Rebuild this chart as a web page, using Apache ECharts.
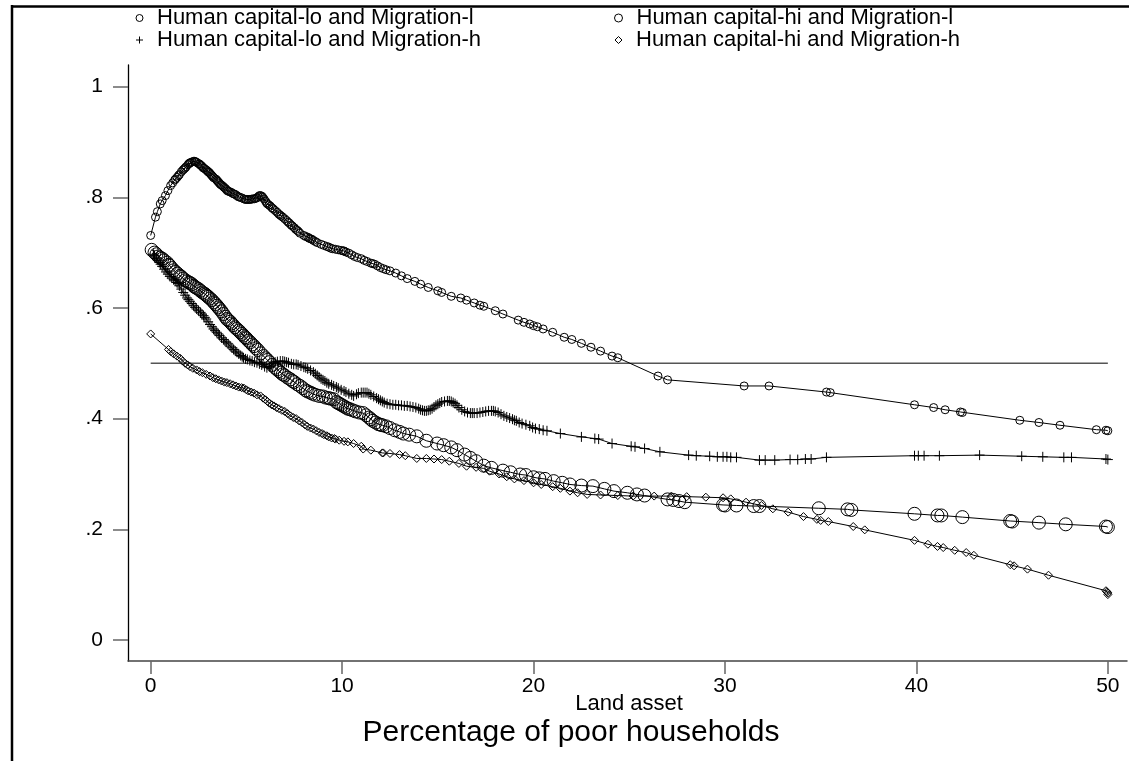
<!DOCTYPE html>
<html>
<head>
<meta charset="utf-8">
<script src="https://cdn.jsdelivr.net/npm/echarts@6/dist/echarts.min.js"></script>
<style>
html,body{margin:0;padding:0;background:#fff;}
#chart{width:1129px;height:761px;}
</style>
</head>
<body>
<div id="chart"></div>
<script>
// ---- series names ----
const names = [
  'Human capital-lo and Migration-l',
  'Human capital-lo and Migration-h',
  'Human capital-hi and Migration-l',
  'Human capital-hi and Migration-h'
];
const xTicks = [0, 10, 20, 30, 40, 50];
const yTicks = [0, 0.2, 0.4, 0.6, 0.8, 1];
const refLine = [[0, 0.5], [50, 0.5]];

// Human capital-lo and Migration-l (small circles)
const loMigL = [
[0,0.731],[0.25,0.764],[0.35,0.774],[0.5,0.788],[0.6,0.794],[0.77,0.803],[0.9,0.812],[1.04,0.821],[1.15,0.826],[1.25,0.831],
[1.3,0.833],[1.38,0.836],[1.45,0.839],[1.5,0.841],[1.6,0.846],[1.68,0.849],[1.74,0.851],[1.8,0.853],[1.85,0.855],[1.95,0.859],
[2.0,0.861],[2.05,0.862],[2.1,0.863],[2.17,0.864],[2.25,0.865],[2.3,0.865],[2.35,0.864],[2.4,0.863],[2.5,0.861],[2.55,0.860],
[2.6,0.858],[2.65,0.857],[2.7,0.855],[2.75,0.853],[2.8,0.852],[2.88,0.850],[2.95,0.848],[3.0,0.846],[3.05,0.845],[3.1,0.843],
[3.15,0.841],[3.2,0.839],[3.25,0.837],[3.3,0.835],[3.4,0.833],[3.45,0.831],[3.5,0.829],[3.55,0.827],[3.6,0.825],[3.65,0.823],
[3.7,0.822],[3.77,0.820],[3.83,0.818],[3.9,0.816],[3.95,0.814],[4.0,0.812],[4.05,0.811],[4.12,0.810],[4.2,0.809],[4.28,0.807],
[4.35,0.806],[4.42,0.805],[4.5,0.803],[4.58,0.801],[4.65,0.800],[4.75,0.799],[4.87,0.797],[4.95,0.796],[5.0,0.796],[5.08,0.796],
[5.15,0.796],[5.22,0.796],[5.3,0.797],[5.4,0.797],[5.48,0.798],[5.55,0.799],[5.62,0.801],[5.68,0.803],[5.74,0.803],[5.8,0.802],
[5.85,0.800],[5.92,0.797],[6.0,0.793],[6.05,0.790],[6.1,0.788],[6.18,0.786],[6.25,0.784],[6.33,0.781],[6.4,0.779],[6.5,0.776],
[6.6,0.773],[6.68,0.770],[6.75,0.768],[6.82,0.766],[6.9,0.764],[7.0,0.761],[7.1,0.758],[7.18,0.755],[7.25,0.753],[7.33,0.750],
[7.4,0.748],[7.5,0.745],[7.58,0.742],[7.66,0.740],[7.72,0.738],[7.8,0.735],[8.0,0.731],[8.1,0.729],[8.2,0.728],[8.27,0.726],
[8.35,0.725],[8.42,0.724],[8.5,0.722],[8.6,0.720],[8.7,0.718],[8.9,0.715],[9.05,0.713],[9.2,0.711],[9.3,0.710],[9.4,0.708],
[9.5,0.707],[9.65,0.706],[9.8,0.705],[9.95,0.704],[10.05,0.703],[10.1,0.703],[10.2,0.701],[10.35,0.699],[10.5,0.696],[10.65,0.693],
[10.8,0.691],[11.0,0.689],[11.15,0.686],[11.3,0.684],[11.5,0.681],[11.6,0.680],[11.7,0.679],[11.85,0.676],[12.0,0.673],[12.15,0.671],
[12.3,0.669],[12.5,0.667],[12.8,0.663],[13.1,0.658],[13.4,0.653],[13.8,0.648],[14.1,0.643],[14.5,0.637],[15.0,0.631],[15.2,0.628],
[15.7,0.621],[16.2,0.618],[16.5,0.614],[16.9,0.609],[17.2,0.605],[17.4,0.603],[18.0,0.595],[18.4,0.589],[19.2,0.578],[19.5,0.574],
[19.8,0.571],[20.0,0.568],[20.2,0.566],[20.5,0.562],[21.0,0.556],[21.6,0.547],[22.0,0.543],[22.5,0.536],[23.0,0.529],[23.5,0.522],
[24.1,0.513],[24.4,0.510],[26.5,0.477],[27.0,0.470],[31.0,0.459],[32.3,0.459],[35.3,0.448],[35.5,0.447],[39.9,0.425],[40.9,0.420],
[41.5,0.416],[42.3,0.412],[42.4,0.411],[45.4,0.397],[46.4,0.393],[47.5,0.388],[49.4,0.380],[49.9,0.379],[50.0,0.378]
];

// Human capital-lo and Migration-h (plus signs)
const loMigH = [
[0.15,0.697],[0.2,0.695],[0.3,0.690],[0.38,0.686],[0.45,0.682],[0.52,0.679],[0.6,0.675],[0.7,0.670],[0.8,0.665],[0.9,0.661],
[1.0,0.657],[1.1,0.654],[1.2,0.651],[1.28,0.649],[1.37,0.646],[1.43,0.644],[1.5,0.640],[1.6,0.634],[1.7,0.628],[1.8,0.623],
[1.9,0.618],[1.97,0.615],[2.05,0.612],[2.15,0.608],[2.24,0.604],[2.32,0.601],[2.4,0.598],[2.5,0.595],[2.6,0.592],[2.68,0.589],
[2.76,0.586],[2.83,0.583],[2.9,0.580],[3.0,0.575],[3.1,0.570],[3.2,0.566],[3.28,0.562],[3.36,0.559],[3.45,0.556],[3.53,0.553],
[3.6,0.550],[3.7,0.546],[3.8,0.543],[3.88,0.540],[3.95,0.538],[4.05,0.535],[4.15,0.531],[4.24,0.528],[4.33,0.525],[4.42,0.522],
[4.5,0.520],[4.6,0.517],[4.7,0.514],[4.78,0.512],[4.85,0.510],[4.95,0.508],[5.05,0.507],[5.18,0.505],[5.3,0.504],[5.42,0.502],
[5.55,0.501],[5.68,0.499],[5.8,0.497],[5.95,0.494],[6.07,0.492],[6.2,0.494],[6.3,0.497],[6.4,0.500],[6.5,0.502],[6.62,0.503],
[6.77,0.504],[6.9,0.504],[7.0,0.503],[7.1,0.502],[7.2,0.501],[7.35,0.499],[7.47,0.498],[7.6,0.498],[7.7,0.497],[7.85,0.495],
[8.0,0.493],[8.1,0.492],[8.2,0.490],[8.35,0.487],[8.5,0.484],[8.6,0.481],[8.7,0.478],[8.8,0.475],[8.9,0.472],[9.0,0.470],
[9.1,0.468],[9.2,0.465],[9.3,0.463],[9.45,0.461],[9.56,0.459],[9.7,0.457],[9.8,0.455],[9.95,0.452],[10.1,0.450],[10.2,0.448],
[10.35,0.445],[10.5,0.443],[10.6,0.441],[10.75,0.444],[10.85,0.446],[11.0,0.447],[11.1,0.447],[11.2,0.447],[11.3,0.447],[11.4,0.445],
[11.5,0.443],[11.65,0.440],[11.8,0.437],[11.9,0.435],[12.0,0.433],[12.1,0.431],[12.2,0.429],[12.35,0.427],[12.5,0.426],[12.65,0.425],
[12.8,0.425],[12.95,0.424],[13.1,0.424],[13.25,0.423],[13.4,0.423],[13.55,0.422],[13.7,0.421],[13.85,0.420],[14.0,0.418],[14.1,0.416],
[14.2,0.415],[14.3,0.414],[14.4,0.414],[14.5,0.415],[14.6,0.416],[14.7,0.418],[14.8,0.421],[14.9,0.424],[15.0,0.426],[15.1,0.428],
[15.2,0.430],[15.35,0.431],[15.5,0.432],[15.6,0.432],[15.7,0.431],[15.8,0.429],[15.9,0.427],[16.0,0.424],[16.1,0.420],[16.25,0.416],
[16.4,0.413],[16.55,0.411],[16.7,0.410],[16.8,0.410],[16.9,0.410],[17.05,0.410],[17.2,0.411],[17.35,0.412],[17.5,0.413],[17.65,0.414],
[17.8,0.414],[17.9,0.414],[18.0,0.413],[18.15,0.411],[18.3,0.408],[18.45,0.405],[18.6,0.403],[18.75,0.401],[18.9,0.399],[19.0,0.397],
[19.1,0.396],[19.25,0.393],[19.4,0.391],[19.6,0.389],[19.8,0.387],[19.95,0.384],[20.1,0.382],[20.3,0.381],[20.5,0.379],[20.7,0.378],
[21.4,0.373],[22.5,0.367],[23.2,0.364],[23.4,0.363],[24.1,0.355],[25.1,0.350],[25.3,0.349],[25.8,0.346],[26.6,0.340],[28.1,0.334],
[28.5,0.333],[29.2,0.332],[29.6,0.331],[29.9,0.331],[30.1,0.331],[30.3,0.330],[30.6,0.330],[31.8,0.325],[32.1,0.325],[32.6,0.325],
[33.4,0.326],[33.8,0.326],[34.2,0.327],[34.5,0.327],[35.3,0.330],[39.9,0.333],[40.1,0.333],[40.4,0.333],[41.2,0.333],[43.3,0.334],
[45.5,0.332],[46.6,0.331],[47.7,0.330],[48.1,0.330],[49.9,0.327],[50.0,0.326]
];

// Human capital-hi and Migration-l (large circles)
const hiMigL = [
[0.05,0.705],[0.2,0.700],[0.3,0.697],[0.4,0.693],[0.5,0.691],[0.6,0.689],[0.7,0.686],[0.85,0.682],[0.95,0.678],[1.0,0.676],
[1.1,0.672],[1.2,0.668],[1.3,0.665],[1.4,0.662],[1.54,0.658],[1.6,0.656],[1.7,0.653],[1.8,0.650],[1.9,0.648],[2.0,0.646],
[2.05,0.645],[2.15,0.643],[2.24,0.640],[2.3,0.638],[2.4,0.636],[2.5,0.634],[2.6,0.631],[2.7,0.628],[2.8,0.626],[2.87,0.624],
[2.94,0.622],[3.0,0.620],[3.1,0.617],[3.2,0.614],[3.3,0.610],[3.38,0.607],[3.46,0.604],[3.53,0.601],[3.6,0.598],[3.7,0.594],
[3.8,0.589],[3.9,0.584],[3.98,0.580],[4.05,0.578],[4.15,0.575],[4.22,0.572],[4.3,0.569],[4.4,0.565],[4.5,0.562],[4.6,0.559],
[4.68,0.556],[4.77,0.553],[4.85,0.550],[4.93,0.547],[5.0,0.545],[5.1,0.541],[5.2,0.538],[5.3,0.534],[5.4,0.531],[5.5,0.527],
[5.6,0.524],[5.75,0.518],[5.9,0.513],[6.0,0.509],[6.1,0.506],[6.2,0.502],[6.35,0.497],[6.5,0.492],[6.6,0.489],[6.7,0.486],
[6.8,0.483],[6.9,0.480],[7.0,0.478],[7.15,0.474],[7.3,0.471],[7.4,0.468],[7.5,0.466],[7.65,0.462],[7.8,0.459],[7.95,0.455],
[8.1,0.451],[8.2,0.449],[8.34,0.447],[8.45,0.445],[8.6,0.443],[8.8,0.441],[9.0,0.440],[9.15,0.438],[9.3,0.437],[9.4,0.436],
[9.56,0.435],[9.7,0.430],[9.8,0.428],[9.9,0.426],[10.0,0.424],[10.1,0.422],[10.2,0.420],[10.3,0.418],[10.4,0.417],[10.55,0.415],
[10.7,0.413],[10.9,0.411],[11.1,0.410],[11.25,0.406],[11.4,0.402],[11.5,0.399],[11.6,0.396],[11.75,0.393],[11.9,0.390],[12.0,0.389],
[12.1,0.388],[12.3,0.386],[12.5,0.383],[12.75,0.379],[13.0,0.376],[13.2,0.373],[13.5,0.371],[13.9,0.368],[14.4,0.360],[14.96,0.355],
[15.3,0.352],[15.7,0.348],[16.0,0.343],[16.4,0.335],[16.7,0.329],[17.0,0.323],[17.4,0.315],[17.8,0.311],[18.4,0.306],[18.8,0.303],
[19.3,0.299],[19.6,0.298],[20.0,0.294],[20.3,0.292],[20.6,0.291],[21.05,0.287],[21.5,0.284],[21.9,0.281],[22.5,0.279],[23.1,0.278],
[23.7,0.273],[24.2,0.269],[24.9,0.266],[25.4,0.263],[25.8,0.261],[27.0,0.254],[27.3,0.253],[27.6,0.251],[27.9,0.249],[29.9,0.244],
[30.0,0.243],[30.6,0.243],[31.5,0.242],[31.8,0.242],[34.9,0.238],[36.4,0.236],[36.6,0.235],[39.9,0.228],[41.1,0.225],[41.3,0.225],
[42.4,0.222],[44.9,0.215],[45.0,0.214],[46.4,0.212],[47.8,0.209],[49.9,0.205],[50.0,0.204]
];

// Human capital-hi and Migration-h (diamonds)
const hiMigH = [
[0,0.553],[0.93,0.525],[1.05,0.521],[1.2,0.517],[1.37,0.513],[1.54,0.509],[1.67,0.504],[1.8,0.500],[1.93,0.497],[2.05,0.494],
[2.2,0.491],[2.4,0.488],[2.55,0.485],[2.7,0.483],[2.9,0.480],[3.1,0.477],[3.25,0.474],[3.4,0.472],[3.55,0.470],[3.7,0.468],
[3.85,0.466],[3.98,0.465],[4.15,0.463],[4.3,0.461],[4.45,0.459],[4.6,0.457],[4.75,0.456],[4.87,0.455],[5.0,0.452],[5.1,0.450],
[5.25,0.448],[5.4,0.446],[5.55,0.443],[5.74,0.441],[5.87,0.437],[6.0,0.434],[6.1,0.431],[6.2,0.428],[6.32,0.425],[6.44,0.423],
[6.57,0.420],[6.7,0.418],[6.85,0.415],[7.0,0.413],[7.15,0.409],[7.3,0.405],[7.45,0.402],[7.6,0.400],[7.75,0.396],[7.9,0.393],
[8.05,0.389],[8.18,0.386],[8.35,0.383],[8.5,0.381],[8.65,0.378],[8.8,0.375],[8.95,0.373],[9.05,0.371],[9.2,0.369],[9.3,0.367],
[9.45,0.365],[9.6,0.364],[9.65,0.363],[9.85,0.361],[10.1,0.359],[10.3,0.358],[10.6,0.355],[11.0,0.350],[11.1,0.345],[11.5,0.343],
[12.1,0.338],[12.15,0.338],[12.5,0.337],[13.0,0.335],[13.3,0.333],[13.9,0.328],[14.4,0.328],[14.8,0.327],[15.2,0.326],[15.6,0.323],
[16.1,0.319],[16.5,0.314],[17.0,0.312],[17.4,0.310],[17.7,0.305],[18.2,0.300],[18.6,0.295],[19.0,0.291],[19.5,0.288],[20.0,0.284],
[20.4,0.281],[21.0,0.277],[21.4,0.274],[21.9,0.269],[22.3,0.266],[22.8,0.263],[23.5,0.262],[24.4,0.261],[25.2,0.260],[26.3,0.260],
[27.2,0.260],[28.0,0.259],[29.0,0.258],[29.9,0.257],[30.3,0.255],[31.1,0.249],[31.9,0.243],[32.5,0.237],[33.3,0.231],[34.1,0.223],
[34.8,0.218],[35.0,0.216],[35.4,0.214],[36.7,0.205],[37.3,0.199],[39.9,0.180],[40.6,0.173],[41.1,0.169],[41.4,0.167],[42.0,0.162],
[42.6,0.158],[43.0,0.153],[44.9,0.136],[45.1,0.134],[45.8,0.128],[46.9,0.117],[49.9,0.089],[49.95,0.087],[50.0,0.085],[50.0,0.082]
];

const FONT = '"Liberation Sans", Arial, Helvetica, sans-serif';
const plusPath = 'path://M5,0L5,10M0,5L10,5';

function mk(name, data, symbol, size, z) {
  return {
    name: name, type: 'line', data: data,
    symbol: symbol, symbolSize: size, symbolKeepAspect: true,
    showSymbol: true, showAllSymbol: true,
    lineStyle: { color: '#000', width: 1 },
    itemStyle: { color: 'rgba(0,0,0,0)', borderColor: '#000', borderWidth: 1 },
    emphasis: { disabled: true },
    z: z, animation: false
  };
}

function legendItem(name, icon, left, top, size) {
  return {
    orient: 'vertical', padding: 0, itemGap: 0,
    itemWidth: size, itemHeight: size, left: left, top: top,
    selectedMode: false,
    itemStyle: { color: 'rgba(0,0,0,0)', borderColor: '#000', borderWidth: 1 },
    textStyle: { fontFamily: FONT, fontSize: 22, lineHeight: 22, color: '#000', padding: [0, 0, 0, 9] },
    data: [{ name: name, icon: icon }]
  };
}

const chart = echarts.init(document.getElementById('chart'), null, { renderer: 'canvas' });

chart.setOption({
  animation: false,
  backgroundColor: '#fff',
  textStyle: { fontFamily: FONT },
  grid: { left: 128, right: 2, top: 65, bottom: 100, containLabel: false },
  legend: [
    legendItem(names[0], 'circle', 135.5, 7, 7),
    legendItem(names[1], plusPath, 135.5, 29, 7),
    legendItem(names[2], 'circle', 614, 7, 8),
    legendItem(names[3], 'diamond', 614.5, 29, 7)
  ],
  xAxis: {
    type: 'value', min: -1.185, max: 51.0,
    axisLine: { show: true, onZero: false, lineStyle: { color: '#444', width: 1.5 } },
    axisTick: { show: true, customValues: xTicks, length: 13, lineStyle: { color: '#666', width: 1.5 } },
    axisLabel: { customValues: xTicks, margin: 15, fontSize: 21, color: '#000', fontFamily: FONT },
    splitLine: { show: false }
  },
  yAxis: {
    type: 'value', min: -0.038, max: 1.039,
    axisLine: { show: true, onZero: false, lineStyle: { color: '#000', width: 1.3 } },
    axisTick: { show: true, customValues: yTicks, length: 15, lineStyle: { color: '#666', width: 1.5 } },
    axisLabel: {
      customValues: yTicks, margin: 25, fontSize: 21, color: '#000', fontFamily: FONT,
      formatter: function (v) {
        if (Math.abs(v) < 1e-9) return '0';
        if (Math.abs(v - 1) < 1e-9) return '1';
        return v.toFixed(1).replace(/^0/, '');
      }
    },
    splitLine: { show: false }
  },
  graphic: [
    { type: 'line', shape: { x1: 12, y1: 5, x2: 12, y2: 761 }, style: { stroke: '#000', lineWidth: 2.5 }, silent: true },
    { type: 'line', shape: { x1: 11, y1: 6.5, x2: 1129, y2: 6.5 }, style: { stroke: '#000', lineWidth: 2.5 }, silent: true },
    { type: 'text', x: 629, y: 693, style: { text: 'Land asset', font: '22px ' + FONT, fill: '#000', textAlign: 'center', textVerticalAlign: 'top' }, silent: true },
    { type: 'text', x: 571, y: 718, style: { text: 'Percentage of poor households', font: '30px ' + FONT, fill: '#000', textAlign: 'center', textVerticalAlign: 'top' }, silent: true }
  ],
  series: [
    {
      name: 'ref', type: 'line', data: refLine, symbol: 'none',
      lineStyle: { color: '#555', width: 1.5 }, z: 1, silent: true, animation: false
    },
    mk(names[0], loMigL, 'circle', 8, 3),
    mk(names[1], loMigH, plusPath, 10, 3),
    mk(names[2], hiMigL, 'circle', 13, 2),
    mk(names[3], hiMigH, 'diamond', 8, 3)
  ]
});
</script>
</body>
</html>
